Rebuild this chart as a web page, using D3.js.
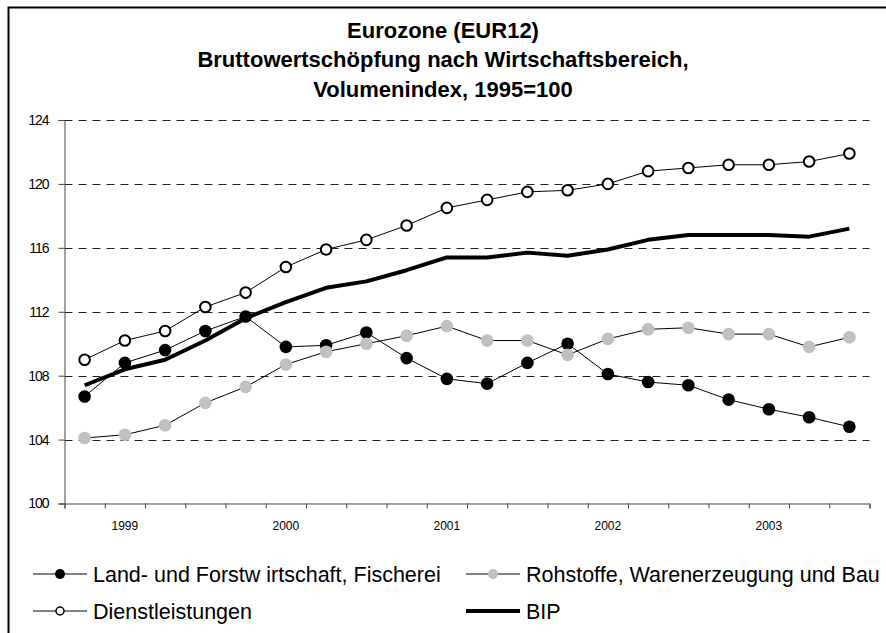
<!DOCTYPE html>
<html>
<head>
<meta charset="utf-8">
<script src="https://cdn.jsdelivr.net/npm/d3@7"></script>
<style>
  body { margin: 0; background: #fff; }
  svg { display: block; font-family: "Liberation Sans", Arial, sans-serif; }
</style>
</head>
<body>
<div id="chart"></div>
<script>
// quarters 1999Q1 .. 2003Q4, only the second quarter carries the year label
var quarters = ["1999Q1","1999Q2","1999Q3","1999Q4","2000Q1","2000Q2","2000Q3","2000Q4",
                "2001Q1","2001Q2","2001Q3","2001Q4","2002Q1","2002Q2","2002Q3","2002Q4",
                "2003Q1","2003Q2","2003Q3","2003Q4"];
var yearLabels = ["", "1999", "", "", "", "2000", "", "", "", "2001", "", "", "", "2002", "", "", "", "2003", "", ""];
var yTicks = [100, 104, 108, 112, 116, 120, 124];

var landwirtschaft = [106.7, 108.8, 109.6, 110.8, 111.7, 109.8, 109.9, 110.7, 109.1, 107.8,
                      107.5, 108.8, 110.0, 108.1, 107.6, 107.4, 106.5, 105.9, 105.4, 104.8];
var rohstoffe = [104.1, 104.3, 104.9, 106.3, 107.3, 108.7, 109.5, 110.0, 110.5, 111.1,
                 110.2, 110.2, 109.3, 110.3, 110.9, 111.0, 110.6, 110.6, 109.8, 110.4];
var dienstleistungen = [109.0, 110.2, 110.8, 112.3, 113.2, 114.8, 115.9, 116.5, 117.4, 118.5,
                        119.0, 119.5, 119.6, 120.0, 120.8, 121.0, 121.2, 121.2, 121.4, 121.9];
var bip = [107.4, 108.4, 109.0, 110.2, 111.6, 112.6, 113.5, 113.9, 114.6, 115.4,
           115.4, 115.7, 115.5, 115.9, 116.5, 116.8, 116.8, 116.8, 116.7, 117.2];

var titleLines = ["Eurozone (EUR12)", "Bruttowertschöpfung nach Wirtschaftsbereich,", "Volumenindex, 1995=100"];

var series = [
  {name: "Land- und Forstw irtschaft, Fischerei", values: landwirtschaft, marker: "black"},
  {name: "Rohstoffe, Warenerzeugung und Bau", values: rohstoffe, marker: "#c0c0c0"},
  {name: "Dienstleistungen", values: dienstleistungen, marker: "white"},
  {name: "BIP", values: bip, marker: null}
];

var width = 886, height = 633;
var plotLeft = 64.5, plotRight = 869.5, plotTop = 120, plotBottom = 503.5;

var svg = d3.select("#chart").append("svg").attr("width", width).attr("height", height);

// outer frame (right and bottom edges lie outside the picture)
svg.append("rect").attr("x", 8.5).attr("y", 7.5).attr("width", 900).attr("height", 700)
   .attr("fill", "none").attr("stroke", "black").attr("stroke-width", 2);

// title
svg.append("g").selectAll("text").data(titleLines).enter().append("text")
   .attr("x", 443).attr("y", (d, i) => 37.5 + i * 29.5)
   .attr("text-anchor", "middle").attr("font-weight", "bold").attr("font-size", 22)
   .text(d => d);

var x = d3.scaleBand().domain(quarters).range([plotLeft, plotRight]);
var xTick = d3.scaleLinear().domain([0, quarters.length]).range([plotLeft, plotRight]);
var y = d3.scaleLinear().domain([100, 124]).range([plotBottom, plotTop]);

// dashed gridlines
svg.append("g").selectAll("line").data(yTicks.filter(d => d > 100)).enter().append("line")
   .attr("x1", plotLeft).attr("x2", plotRight)
   .attr("y1", d => Math.round(y(d)) + 0.5).attr("y2", d => Math.round(y(d)) + 0.5)
   .attr("stroke", "#222").attr("stroke-dasharray", "8,6");

// y axis
var yAxis = d3.axisLeft(y).tickValues(yTicks).tickSize(6).tickPadding(10);
var gy = svg.append("g").attr("transform", "translate(" + plotLeft + ",0)").call(yAxis);
gy.select(".domain").attr("stroke", "#444");
gy.selectAll(".tick line").attr("stroke", "#444");
gy.selectAll(".tick text").attr("font-size", 14).attr("letter-spacing", -1)
  .attr("font-family", "Liberation Sans, Arial, sans-serif").attr("fill", "black");

// x axis: ticks at quarter boundaries, labels at quarter centres
var xAxis = d3.axisBottom(xTick).tickValues(d3.range(quarters.length + 1)).tickSize(5).tickFormat("");
var gx = svg.append("g").attr("transform", "translate(0," + plotBottom + ")").call(xAxis);
gx.select(".domain").attr("stroke", "#444");
gx.selectAll(".tick line").attr("stroke", "#444");
svg.append("g").selectAll("text").data(quarters).enter().append("text")
   .attr("x", d => x(d) + x.bandwidth() / 2).attr("y", plotBottom + 26)
   .attr("text-anchor", "middle").attr("font-size", 12)
   .text((d, i) => yearLabels[i]);

var line = d3.line().x((d, i) => x(quarters[i]) + x.bandwidth() / 2).y(d => y(d));

series.forEach(function (s) {
  svg.append("path").datum(s.values).attr("d", line).attr("fill", "none")
     .attr("stroke", "black").attr("stroke-width", s.marker ? 1 : 4).attr("stroke-linejoin", "round");
  if (s.marker) {
    svg.append("g").selectAll("circle").data(s.values).enter().append("circle")
       .attr("cx", (d, i) => x(quarters[i]) + x.bandwidth() / 2).attr("cy", d => y(d))
       .attr("r", s.marker == "white" ? 5.3 : 6.3)
       .attr("fill", s.marker)
       .attr("stroke", s.marker == "white" ? "black" : "none").attr("stroke-width", 2);
  }
});

// legend
var legendPos = [[33, 574], [466, 574], [33, 611], [466, 611]];
series.forEach(function (s, i) {
  var p = legendPos[i];
  var g = svg.append("g").attr("transform", "translate(" + p[0] + "," + p[1] + ")");
  g.append("line").attr("x1", 0).attr("x2", 54).attr("y1", 0).attr("y2", 0)
   .attr("stroke", "black").attr("stroke-width", s.marker ? 1 : 4);
  if (s.marker) {
    g.append("circle").attr("cx", 27).attr("cy", 0).attr("r", s.marker == "white" ? 4 : 5)
     .attr("fill", s.marker).attr("stroke", s.marker == "white" ? "black" : "none").attr("stroke-width", 1.5);
  }
  g.append("text").attr("x", 60).attr("y", 8).attr("font-size", 21.5).text(s.name);
});
</script>
</body>
</html>
